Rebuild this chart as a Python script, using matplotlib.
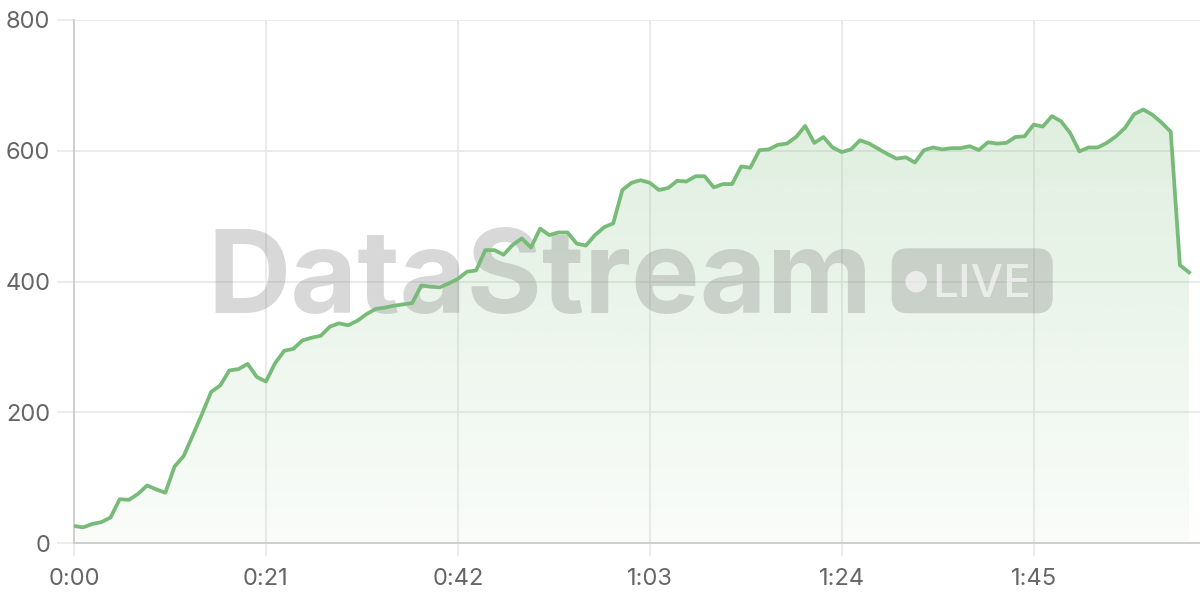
import matplotlib
matplotlib.use("Agg")
import matplotlib.pyplot as plt
import numpy as np
from matplotlib.patches import FancyBboxPatch, Ellipse, Polygon
from matplotlib.ticker import FuncFormatter

# one sample per second
seconds = list(range(123))
values = [
    26, 24, 29, 32, 39, 67, 66, 75, 88, 82,
    77, 117, 133, 165, 197, 231, 241, 264, 266, 274,
    254, 247, 275, 294, 297, 310, 314, 317, 331, 336,
    333, 340, 350, 358, 360, 363, 365, 367, 394, 392,
    391, 397, 404, 415, 417, 448, 448, 441, 456, 466,
    452, 481, 471, 475, 475, 458, 455, 471, 483, 489,
    540, 551, 555, 551, 540, 543, 554, 553, 561, 561,
    544, 549, 549, 576, 574, 601, 602, 609, 611, 621,
    638, 612, 621, 605, 598, 602, 616, 611, 603, 595,
    588, 590, 582, 601, 605, 602, 604, 604, 607, 601,
    613, 611, 612, 621, 622, 640, 637, 653, 645, 627,
    599, 605, 605, 612, 622, 635, 656, 663, 655, 643,
    629, 425, 414,
]
x_ticks = [0, 21, 42, 63, 84, 105]
y_ticks = [0, 200, 400, 600, 800]

line_color = "#78bb78"
grid_color = "#e8e8e8"
label_color = "#666666"

plt.rcParams["font.family"] = ["Inter", "DejaVu Sans"]

fig = plt.figure(figsize=(12, 6), dpi=100)
ax = fig.add_axes([74 / 1200, 57 / 600, 1126 / 1200, 523 / 600])
aspect = 1126 / 523  # axes width / height in pixels

x = np.array(seconds, dtype=float)
y = np.array(values, dtype=float)

ax.set_xlim(0, 123.2)
ax.set_ylim(0, 800)

# gradient fill under the line
grad = np.zeros((256, 1, 4))
grad[:, 0, :3] = matplotlib.colors.to_rgb(line_color)
grad[:, 0, 3] = np.linspace(0.28, 0.04, 256)
img = ax.imshow(grad, extent=[x[0], x[-1], 0, 800], aspect="auto",
                origin="upper", zorder=1)
verts = np.vstack([[x[0], 0], np.column_stack([x, y]), [x[-1], 0]])
clip = Polygon(verts, closed=True, transform=ax.transData, facecolor="none",
               edgecolor="none")
ax.add_patch(clip)
img.set_clip_path(clip)

ax.plot(x, y, color=line_color, lw=2.7, zorder=4, solid_joinstyle="round")

# watermark
ax.text(0.414, 0.4398, "DataStream", transform=ax.transAxes, ha="center",
        va="baseline", fontsize=83, fontweight="bold", color="#808080",
        alpha=0.3, zorder=3)
badge = FancyBboxPatch((0.7262, 0.4392), 0.1430, 0.1243, transform=ax.transAxes,
                       boxstyle="round,pad=0,rounding_size=0.0142",
                       facecolor="#808080", edgecolor="none", alpha=0.3,
                       zorder=3, mutation_aspect=aspect)
ax.add_patch(badge)
ax.add_patch(Ellipse((0.7479, 0.4996), 21.4 / 1126, 21.4 / 523,
                     transform=ax.transAxes, facecolor="white", alpha=0.6,
                     edgecolor="none", zorder=3))
ax.text(0.806, 0.4709, "LIVE", transform=ax.transAxes, ha="center",
        va="baseline", fontsize=33, fontweight="medium", color="white",
        alpha=0.6, zorder=3)

ax.set_xticks(x_ticks)
ax.set_yticks(y_ticks)
ax.xaxis.set_major_formatter(FuncFormatter(lambda v, p: f"{int(v) // 60}:{int(v) % 60:02d}"))
ax.grid(True, color=grid_color, lw=1.2, zorder=0)
ax.set_axisbelow(True)

ax.tick_params(axis="y", length=12, width=1.2, color=grid_color, pad=5,
               labelsize=17, labelcolor=label_color)
ax.tick_params(axis="x", length=9, width=1.2, color=grid_color, pad=9,
               labelsize=17, labelcolor=label_color)

for side in ["top", "right"]:
    ax.spines[side].set_visible(False)
for side in ["left", "bottom"]:
    ax.spines[side].set_color("#cccccc")
    ax.spines[side].set_linewidth(1.3)

fig.savefig("out.png", dpi=100)
